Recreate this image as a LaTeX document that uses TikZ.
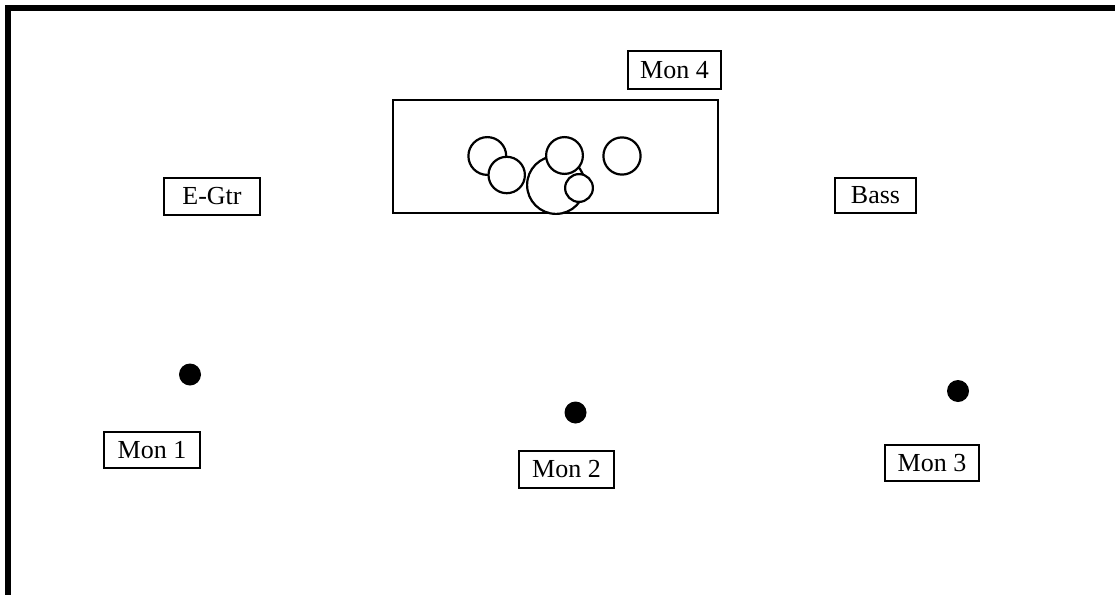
\documentclass[tikz,border=0pt]{standalone}
\usepackage{fontspec}
\setmainfont{Liberation Serif}
\begin{document}
\begin{tikzpicture}[x=1pt,y=-1pt,
  lbl/.style={draw, line width=2pt, rectangle, inner sep=0pt, font=\fontsize{26}{30}\selectfont},
  drum/.style={draw, fill=white, circle, line width=2.2pt, inner sep=0pt},
  mon/.style={fill=black, circle, inner sep=0pt, minimum size=22pt}]
\useasboundingbox (0,0) rectangle (1115,594);
\fill[white] (0,0) rectangle (1115,594);
% border
\draw[line width=6pt, line join=miter] (7.5,600) -- (7.5,8) -- (1120,8);
% drum riser
\node[draw, line width=2pt, minimum width=325pt, minimum height=113pt, inner sep=0pt] (riser) at (555,156.5) {};
% drum kit
\node[drum, minimum size=37.8pt] (c1) at (487.3,156) {};
\node[drum, minimum size=57.8pt] (c3) at (556,185) {};
\node[drum, minimum size=36.4pt] (c2) at (506.7,175) {};
\node[drum, minimum size=36.8pt] (c4) at (564.5,155.5) {};
\node[drum, minimum size=27.8pt] (c5) at (579,188) {};
\node[drum, minimum size=37.2pt] (c6) at (622,156) {};
% labels
\node[lbl, minimum width=93pt, minimum height=38pt] (mon4) at (674.5,70) {Mon 4};
\node[lbl, minimum width=96pt, minimum height=37pt] (egtr) at (212,196.5) {E-Gtr};
\node[lbl, minimum width=81pt, minimum height=35pt] (bass) at (875.5,195.5) {Bass};
\node[lbl, minimum width=96pt, minimum height=36pt] (mon1) at (152,450) {Mon 1};
\node[lbl, minimum width=95pt, minimum height=37pt] (mon2) at (566.5,469.5) {Mon 2};
\node[lbl, minimum width=94pt, minimum height=36pt] (mon3) at (932,463) {Mon 3};
% monitor positions
\node[mon] (p1) at (190,374.5) {};
\node[mon] (p2) at (575.5,412.5) {};
\node[mon] (p3) at (958,391) {};
\end{tikzpicture}
\end{document}
